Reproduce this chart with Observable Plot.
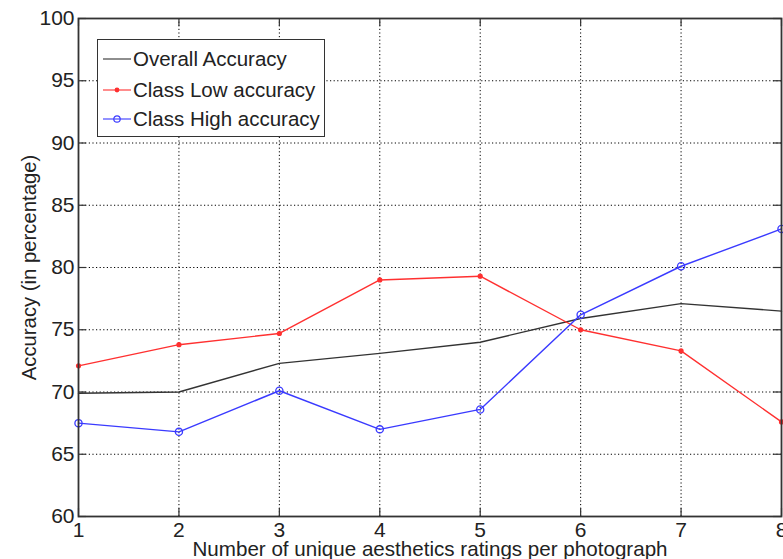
<!DOCTYPE html>
<html>
<head>
<meta charset="utf-8">
<script src="https://cdn.jsdelivr.net/npm/d3@7"></script>
<script src="https://cdn.jsdelivr.net/npm/@observablehq/plot@0.6"></script>
<style>
  html, body { margin: 0; padding: 0; background: #fff; }
  #wrap { position: relative; width: 783px; height: 559px; font-family: "Liberation Sans", Arial, sans-serif; color: #222; }
  #legend { position: absolute; left: 97px; top: 39px; width: 228px; height: 98px; border: 1.5px solid #333; background: #fff; box-sizing: border-box; }
  .lrow { position: absolute; left: 5px; height: 24px; display: flex; align-items: center; font-size: 20.5px; white-space: nowrap; }
  .lrow svg { margin-right: 2px; }
</style>
</head>
<body>
<div id="wrap"></div>
<script>
// ---- data ----
const xValues = [1, 2, 3, 4, 5, 6, 7, 8];
const overallAccuracy = [69.9, 70.0, 72.3, 73.1, 74.0, 75.9, 77.1, 76.5];
const classLowAccuracy = [72.1, 73.8, 74.7, 79.0, 79.3, 75.0, 73.3, 67.6];
const classHighAccuracy = [67.5, 66.8, 70.1, 67.0, 68.6, 76.2, 80.1, 83.1];
const seriesNames = ["Overall Accuracy", "Class Low accuracy", "Class High accuracy"];
const xTicks = [1, 2, 3, 4, 5, 6, 7, 8];
const yTicks = [60, 65, 70, 75, 80, 85, 90, 95, 100];
const xLabel = "Number of unique aesthetics ratings per photograph";
const yLabel = "Accuracy (in percentage)";

// ---- styling ----
const colors = ["#333333", "#ff3030", "#3a3aff"];
const markers = ["none", "dot", "circle"];

const W = 783, H = 559;
const mL = 78, mR = 2, mT = 18, mB = 43;
const innerW = W - mL - mR, innerH = H - mT - mB;
const tickLen = 8;

const seriesValues = [overallAccuracy, classLowAccuracy, classHighAccuracy];
const rows = [];
seriesValues.forEach((vals, si) => {
  vals.forEach((v, i) => rows.push({x: xValues[i], value: v, series: seriesNames[si]}));
});
const bySeries = name => rows.filter(r => r.series === name);

const marks = [
  Plot.ruleX(xTicks, {x: d => d, stroke: "#000", strokeWidth: 1, strokeDasharray: "1.2,2.4"}),
  Plot.ruleY(yTicks, {y: d => d, stroke: "#000", strokeWidth: 1, strokeDasharray: "1.2,2.4"}),
  // inward ticks on all four sides
  Plot.tickX(xTicks, {x: d => d, stroke: "#333", strokeWidth: 1.2, insetTop: innerH - tickLen}),
  Plot.tickX(xTicks, {x: d => d, stroke: "#333", strokeWidth: 1.2, insetBottom: innerH - tickLen}),
  Plot.tickY(yTicks, {y: d => d, stroke: "#333", strokeWidth: 1.2, insetRight: innerW - tickLen}),
  Plot.tickY(yTicks, {y: d => d, stroke: "#333", strokeWidth: 1.2, insetLeft: innerW - tickLen})
];
seriesNames.forEach((name, si) => {
  marks.push(Plot.line(bySeries(name), {x: "x", y: "value", stroke: colors[si], strokeWidth: 1.4}));
  if (markers[si] === "dot") marks.push(Plot.dot(bySeries(name), {x: "x", y: "value", fill: colors[si], r: 2.6}));
  if (markers[si] === "circle") marks.push(Plot.dot(bySeries(name), {x: "x", y: "value", stroke: colors[si], fill: "none", strokeWidth: 1.3, r: 3.6}));
});
marks.push(Plot.frame({stroke: "#333", strokeWidth: 1.8}));
marks.push(Plot.text([xLabel], {frameAnchor: "bottom", textAnchor: "middle", dy: 33, lineAnchor: "middle", fontSize: 20.6, fill: "#222", text: d => d}));
marks.push(Plot.text([yLabel], {frameAnchor: "left", textAnchor: "middle", dx: -49, rotate: -90, lineAnchor: "middle", fontSize: 20.3, fill: "#222", text: d => d}));

const chart = Plot.plot({
  width: W, height: H,
  marginLeft: mL, marginRight: mR, marginTop: mT, marginBottom: mB,
  style: {fontFamily: "'Liberation Sans', Arial, sans-serif", fontSize: "21px", color: "#222", background: "#fff", overflow: "visible"},
  x: {domain: [1, 8], ticks: xTicks, tickSize: 0, tickPadding: 6, label: null, tickFormat: d => String(d)},
  y: {domain: [60, 100], ticks: yTicks, tickSize: 0, tickPadding: 4, label: null, tickFormat: d => String(d)},
  marks
});
const wrap = document.getElementById("wrap");
wrap.appendChild(chart);

// ---- legend (HTML overlay) ----
const legend = document.createElement("div");
legend.id = "legend";
const rowTops = [7, 38, 67];
seriesNames.forEach((name, si) => {
  const row = document.createElement("div");
  row.className = "lrow";
  row.style.top = rowTops[si] + "px";
  let m = "";
  if (markers[si] === "dot") m = `<circle cx="14" cy="6" r="2.4" fill="${colors[si]}"/>`;
  if (markers[si] === "circle") m = `<circle cx="14" cy="6" r="3.2" fill="none" stroke="${colors[si]}" stroke-width="1.2"/>`;
  row.innerHTML = `<svg width="28" height="12"><line x1="0" x2="28" y1="6" y2="6" stroke="${colors[si]}" stroke-width="1.3" stroke-opacity="0.85"/>${m}</svg><span>${name}</span>`;
  legend.appendChild(row);
});
wrap.appendChild(legend);
</script>
</body>
</html>
